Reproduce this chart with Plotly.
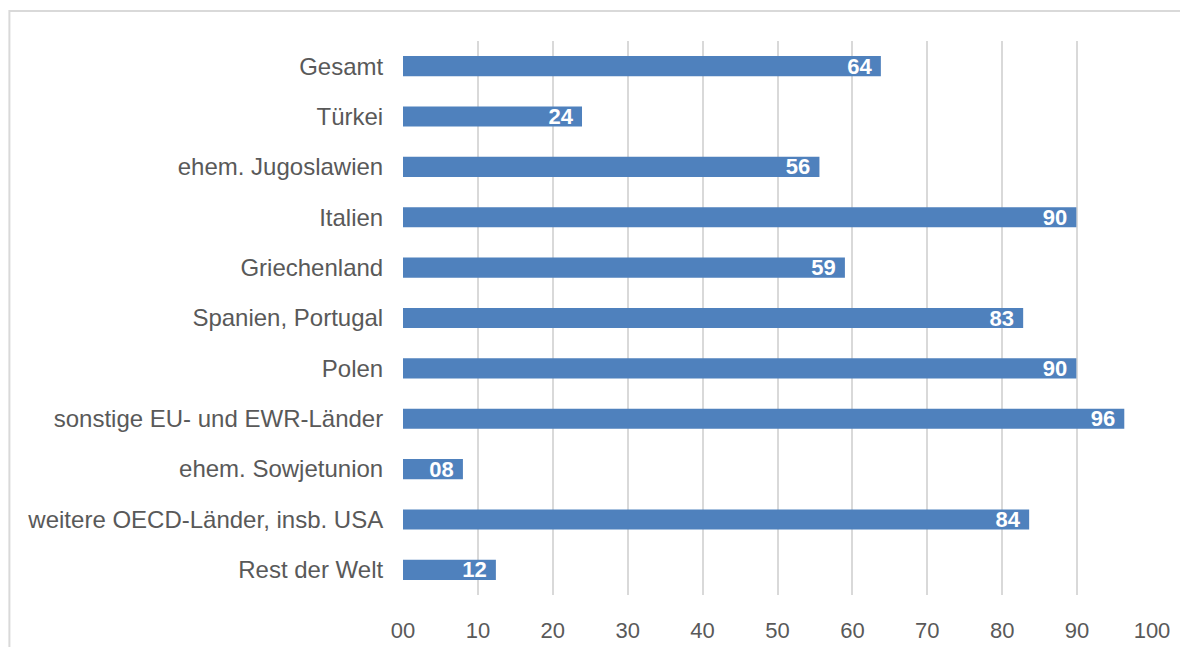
import plotly.graph_objects as go

# categories top to bottom as in the chart
categories = [
    "Gesamt", "Türkei", "ehem. Jugoslawien", "Italien", "Griechenland",
    "Spanien, Portugal", "Polen", "sonstige EU- und EWR-Länder",
    "ehem. Sowjetunion", "weitere OECD-Länder, insb. USA", "Rest der Welt",
]
values = [63.8, 23.9, 55.6, 89.9, 59.0, 82.8, 89.9, 96.3, 8.0, 83.6, 12.4]
tick_vals = [0, 10, 20, 30, 40, 50, 60, 70, 80, 90, 100]
tick_text = ["00", "10", "20", "30", "40", "50", "60", "70", "80", "90", "100"]

grey = "#595959"

fig = go.Figure(go.Bar(
    x=values, y=categories, orientation="h",
    marker=dict(color="#4f81bd", line=dict(width=0)),
    width=0.4,
    text=[f"{round(v):02d}" for v in values],
    textposition="inside", insidetextanchor="end",
    textangle=0, constraintext="none",
    textfont=dict(color="white", size=22, family="Liberation Sans"),
    texttemplate="<b>%{text}</b>\u00a0",
    cliponaxis=False,
))

fig.update_layout(
    width=1188, height=647,
    margin=dict(l=395, r=44, t=33, b=58),
    paper_bgcolor="white", plot_bgcolor="white",
    font=dict(family="Liberation Sans", size=22, color=grey),
    showlegend=False,
    xaxis=dict(
        range=[0, 100], tickvals=tick_vals, ticktext=tick_text,
        showgrid=True, gridcolor="#d9d9d9", gridwidth=1.5,
        zeroline=False, showline=False,
        ticks="outside", ticklen=16, tickcolor="rgba(0,0,0,0)",
        tickfont=dict(size=22, color=grey),
    ),
    yaxis=dict(
        autorange="reversed", showgrid=False, zeroline=False, showline=False,
        ticks="outside", ticklen=14, tickcolor="rgba(0,0,0,0)",
        tickfont=dict(size=24, color=grey),
    ),
)

# outer chart border (partly cut off on the right and bottom)
fig.add_shape(type="rect", xref="paper", yref="paper",
              x0=-0.5255, x1=1.2, y0=-0.3, y1=1.054,
              line=dict(color="#d9d9d9", width=2), layer="below")

fig.write_html("out.html")
